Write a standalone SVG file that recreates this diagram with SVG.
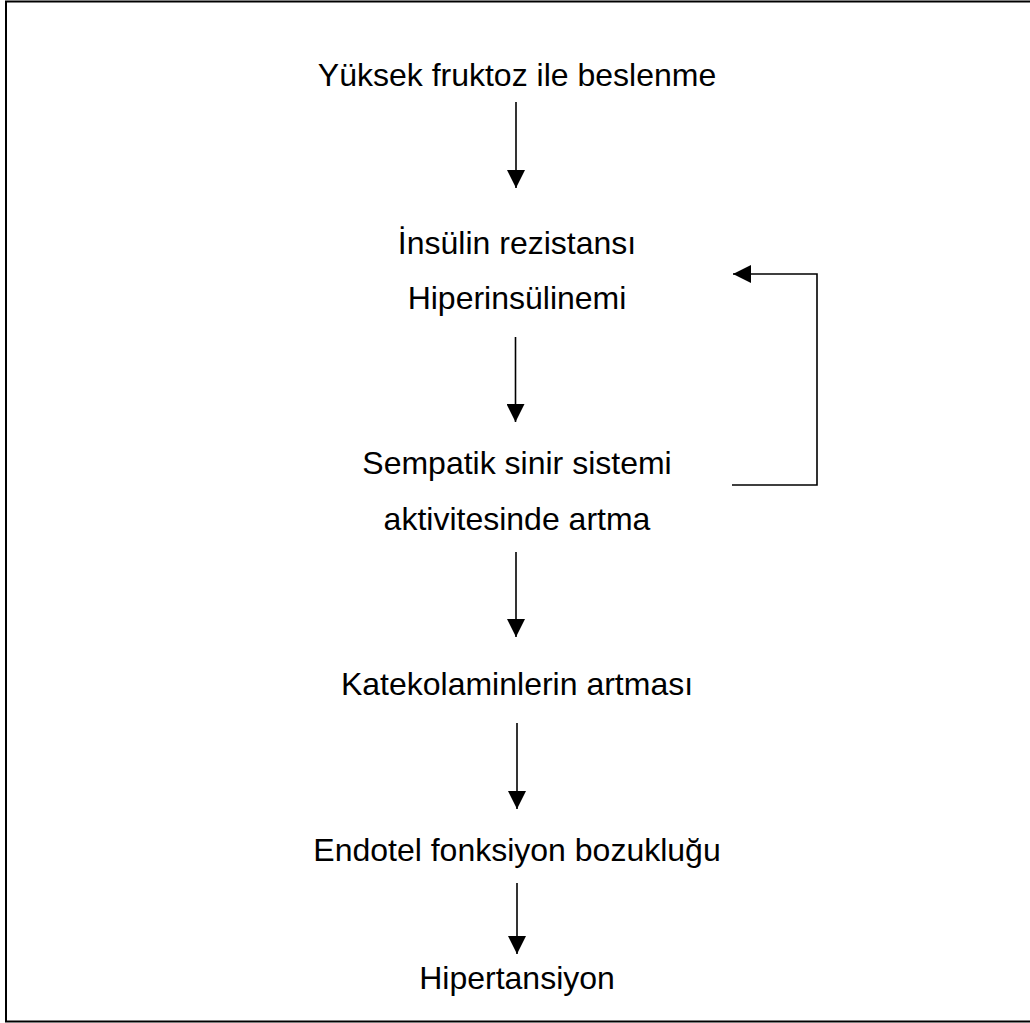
<svg xmlns="http://www.w3.org/2000/svg" width="1030" height="1023" viewBox="0 0 1030 1023">
<style>
text{font-family:"Liberation Sans",Arial,sans-serif;font-size:32px;fill:#000;text-anchor:middle}
.c{stroke:#000;stroke-width:1.6;fill:none}
</style>
<defs>
<marker id="ah" markerUnits="userSpaceOnUse" markerWidth="18" markerHeight="18" refX="16" refY="8" orient="auto" viewBox="0 0 16 16">
<path d="M0,0 L16,8 L0,16 Z" fill="#000"/>
</marker>
</defs>
<rect x="0" y="0" width="1030" height="1023" fill="#fff"/>
<rect x="6" y="1.5" width="1030" height="1020" fill="none" stroke="#000" stroke-width="2"/>
<g id="n1"><text x="517" y="86">Yüksek fruktoz ile beslenme</text></g>
<g id="n2"><text x="517" y="254">İnsülin rezistansı</text><text x="517" y="309">Hiperinsülinemi</text></g>
<g id="n3"><text x="517" y="474">Sempatik sinir sistemi</text><text x="517" y="530">aktivitesinde artma</text></g>
<g id="n4"><text x="517" y="695">Katekolaminlerin artması</text></g>
<g id="n5"><text x="517" y="861">Endotel fonksiyon bozukluğu</text></g>
<g id="n6"><text x="517" y="989">Hipertansiyon</text></g>
<g id="connectors">
<line class="c" x1="516" y1="102" x2="516" y2="188" marker-end="url(#ah)"/>
<line class="c" x1="515.5" y1="337" x2="515.5" y2="422" marker-end="url(#ah)"/>
<line class="c" x1="516" y1="552" x2="516" y2="637" marker-end="url(#ah)"/>
<line class="c" x1="517" y1="723" x2="517" y2="809" marker-end="url(#ah)"/>
<line class="c" x1="517" y1="883" x2="517" y2="954" marker-end="url(#ah)"/>
<polyline class="c" points="732,485 817,485 817,274 733,274" marker-end="url(#ah)"/>
</g>
</svg>
